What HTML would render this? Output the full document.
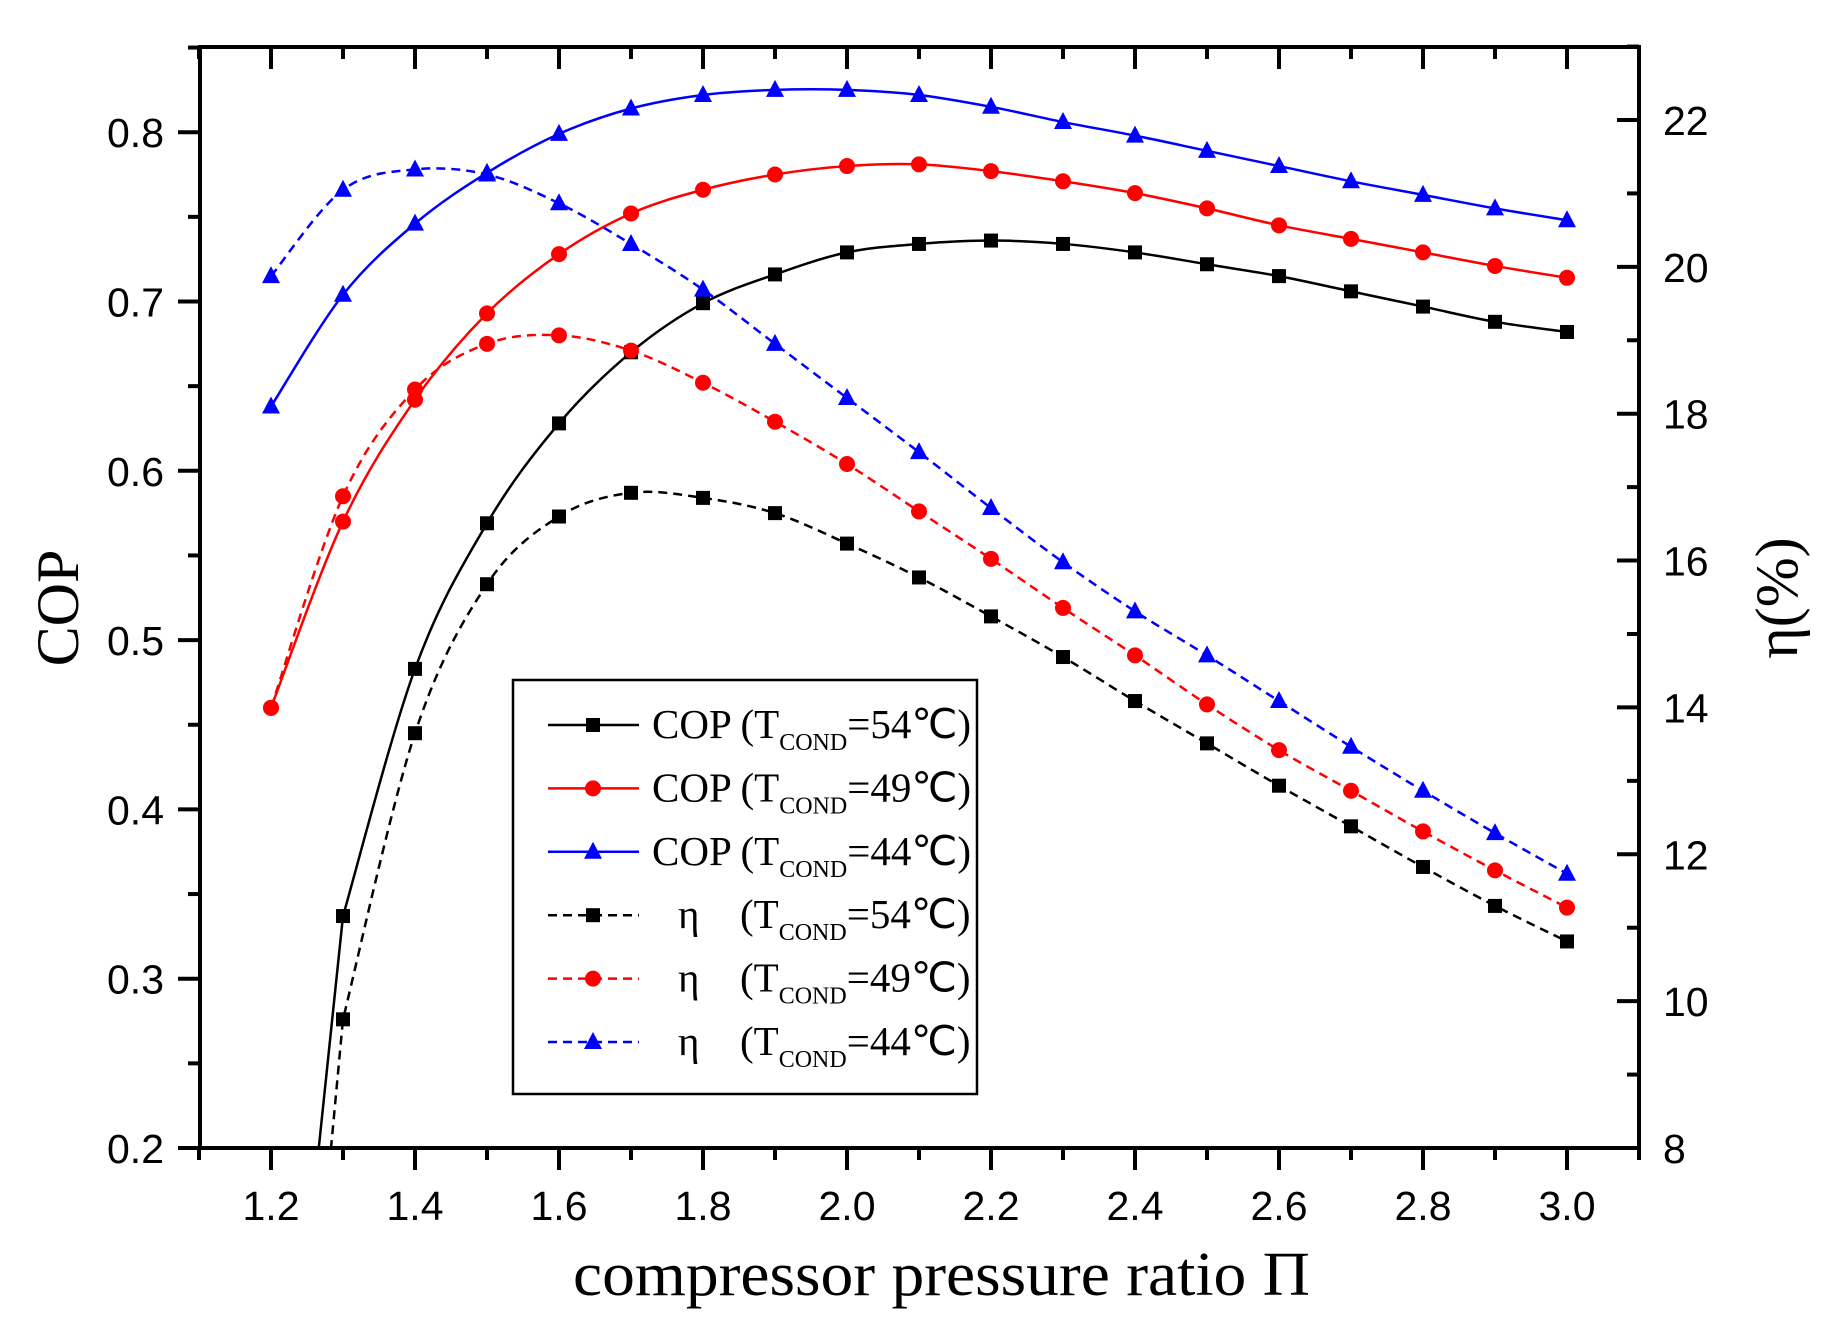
<!DOCTYPE html>
<html><head><meta charset="utf-8"><style>
html,body{margin:0;padding:0;background:#fff;overflow:hidden;width:1833px;height:1332px;}
svg{display:block;}
.s{font-family:"Liberation Sans",sans-serif;font-size:41px;fill:#000;}
.r{font-family:"Liberation Serif",serif;fill:#000;}
</style></head><body>
<svg id="c" width="1833" height="1332" xmlns="http://www.w3.org/2000/svg">
<defs><clipPath id="pa"><rect x="200" y="47" width="1439" height="1101"/></clipPath></defs>
<g id="g"></g>
<rect x="200" y="47" width="1439" height="1101" fill="none" stroke="#000" stroke-width="4"/>
<text class="r" font-size="60" transform="translate(78,608) rotate(-90)" text-anchor="middle">COP</text>
<text class="r" font-size="60" transform="translate(1797,598) rotate(-90)" text-anchor="middle">η(%)</text>
<text class="r" font-size="62" x="573" y="1295" textLength="737" lengthAdjust="spacingAndGlyphs">compressor pressure ratio Π</text>
<rect x="513" y="680" width="464" height="414" fill="#fff" stroke="#000" stroke-width="2.5"/>
</svg>
<script>
const NS="http://www.w3.org/2000/svg",g=document.getElementById('g'),svg=document.getElementById('c');
function el(t,a,p){const e=document.createElementNS(NS,t);for(const k in a)e.setAttribute(k,a[k]);(p||g).appendChild(e);return e;}
const X=v=>271+(v-1.2)*720, Y=v=>1148-(v-0.2)*1693, YR=v=>1148-(v-8)*73.43;
for(let i=0;i<=20;i++){const v=1.1+i*0.1,x=X(v),maj=i%2==1;
 el('line',{x1:x,y1:1148,x2:x,y2:1148+(maj?22:12),stroke:'#000','stroke-width':4});
 el('line',{x1:x,y1:47,x2:x,y2:47+(maj?22:12),stroke:'#000','stroke-width':4});
 if(maj){const t=el('text',{x:x,y:1220,'text-anchor':'middle',class:'s'});t.textContent=v.toFixed(1);}}
for(let i=0;i<=13;i++){const v=0.2+i*0.05,y=Y(v),maj=i%2==0;
 el('line',{x1:200,y1:y,x2:200-(maj?22:12),y2:y,stroke:'#000','stroke-width':4});
 if(maj&&v<0.86){const t=el('text',{x:164,y:y+15,'text-anchor':'end',class:'s'});t.textContent=v.toFixed(1);}}
for(let v=8;v<=23;v++){const y=YR(v),maj=v%2==0;
 el('line',{x1:1639,y1:y,x2:1639-(maj?22:12),y2:y,stroke:'#000','stroke-width':4});
 if(maj){const t=el('text',{x:1663,y:y+15,class:'s'});t.textContent=v;}}
const xs=[1.2,1.3,1.4,1.5,1.6,1.7,1.8,1.9,2.0,2.1,2.2,2.3,2.4,2.5,2.6,2.7,2.8,2.9,3.0];
const S=[
 {c:'#000',m:'s',d:0,st:1,v:[-0.07,0.337,0.483,0.569,0.628,0.670,0.699,0.716,0.729,0.734,0.736,0.734,0.729,0.722,0.715,0.706,0.697,0.688,0.682]},
 {c:'#f00',m:'c',d:0,v:[0.460,0.570,0.642,0.693,0.728,0.752,0.766,0.775,0.780,0.781,0.777,0.771,0.764,0.755,0.745,0.737,0.729,0.721,0.714]},
 {c:'#00f',m:'t',d:0,v:[0.638,0.704,0.746,0.776,0.799,0.814,0.822,0.825,0.825,0.822,0.815,0.806,0.798,0.789,0.780,0.771,0.763,0.755,0.748]},
 {c:'#000',m:'s',d:1,st:1,v:[-0.18,0.276,0.445,0.533,0.573,0.587,0.584,0.575,0.557,0.537,0.514,0.490,0.464,0.439,0.414,0.390,0.366,0.343,0.322]},
 {c:'#f00',m:'c',d:1,v:[0.460,0.585,0.648,0.675,0.680,0.671,0.652,0.629,0.604,0.576,0.548,0.519,0.491,0.462,0.435,0.411,0.387,0.364,0.342]},
 {c:'#00f',m:'t',d:1,v:[0.715,0.766,0.778,0.775,0.758,0.734,0.707,0.675,0.643,0.611,0.578,0.546,0.517,0.491,0.464,0.437,0.411,0.386,0.362]}];
const cg=el('g',{'clip-path':'url(#pa)'});
function mk(m,x,y,c,p){if(m=='s')el('rect',{x:x-7,y:y-7,width:14,height:14,fill:c},p);
 else if(m=='c')el('circle',{cx:x,cy:y,r:8,fill:c},p);
 else el('polygon',{points:`${x},${y-10} ${x+9},${y+7} ${x-9},${y+7}`,fill:c},p);}
S.forEach(s=>{const P=xs.map((x,i)=>[X(x),Y(s.v[i])]);let d=`M${P[0][0]},${P[0][1]}`;
 let start=0;
 if(s.st){d+=`L${P[1][0]},${P[1][1]}`;start=1;}
 for(let i=start;i<P.length-1;i++){const p0=P[Math.max(start,i-1)],p1=P[i],p2=P[i+1],p3=P[Math.min(P.length-1,i+2)];
  d+=`C${p1[0]+(p2[0]-p0[0])/6},${p1[1]+(p2[1]-p0[1])/6} ${p2[0]-(p3[0]-p1[0])/6},${p2[1]-(p3[1]-p1[1])/6} ${p2[0]},${p2[1]}`;}
 const a={d:d,fill:'none',stroke:s.c,'stroke-width':2.5};if(s.d)a['stroke-dasharray']='9,6';el('path',a,cg);
 P.forEach((p,i)=>{if(s.v[i]>=0.2)mk(s.m,p[0],p[1],s.c,cg);});});
const L=['54','49','44','54','49','44'];
L.forEach((l,i)=>{const y=725+i*63.4,s=S[i];const a={x1:548,y1:y,x2:639,y2:y,stroke:s.c,'stroke-width':2.5};
 if(s.d)a['stroke-dasharray']='9,6';el('line',a,svg);mk(s.m,593,y,s.c,svg);
 if(i<3){const t=el('text',{x:652,y:y+13,class:'r','font-size':'41'},svg);
  t.innerHTML=`COP (T<tspan font-size="24" dy="12">COND</tspan><tspan dy="-12">=${l}℃)</tspan>`;}
 else{const e=el('text',{x:678,y:y+13,class:'r','font-size':'41'},svg);e.textContent='η';
  const t=el('text',{x:740,y:y+13,class:'r','font-size':'41'},svg);
  t.innerHTML=`(T<tspan font-size="24" dy="12">COND</tspan><tspan dy="-12">=${l}℃)</tspan>`;}});
</script>
</body></html>
